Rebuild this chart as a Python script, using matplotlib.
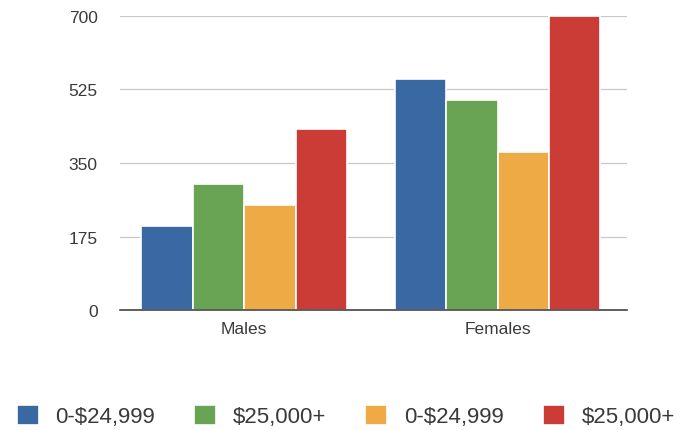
import numpy as np
import matplotlib.pyplot as plt

plt.rcParams['font.family'] = ['Liberation Sans', 'DejaVu Sans']

# Respondents by gender and income bracket
groups = ["Males", "Females"]
series_labels = ["0-$24,999", "$25,000+", "0-$24,999", "$25,000+"]
males = [200, 300, 250, 430]
females = [550, 500, 375, 700]
colors = ["#3a68a3", "#69a455", "#eeab45", "#cb3c36"]

values = np.array([males, females]).T
x = np.arange(len(groups))
width = 0.203
offsets = (np.arange(4) - 1.5) * width

fig = plt.figure(figsize=(6.82, 4.31), dpi=100)
ax = fig.add_axes([0.176, 0.278, 0.743, 0.683])

for i in range(len(series_labels)):
    ax.bar(x + offsets[i], values[i], width, color=colors[i],
           edgecolor="white", linewidth=1.2, label=series_labels[i], zorder=3)

ax.set_xlim(-0.49, 1.51)
ax.set_ylim(0, 700)
ax.set_yticks([0, 175, 350, 525, 700])
ax.set_xticks(x)
ax.set_xticklabels(groups)
ax.tick_params(axis="y", length=0, pad=16, labelsize=12.5, labelcolor="#3a3a3a")
ax.tick_params(axis="x", length=0, pad=8, labelsize=12.5, labelcolor="#3a3a3a")

ax.grid(axis="y", color="#c8c8c8", linewidth=0.9, zorder=0)
for side in ["top", "right", "left"]:
    ax.spines[side].set_visible(False)
ax.spines["bottom"].set_color("#444444")
ax.spines["bottom"].set_linewidth(1.2)
ax.spines["bottom"].set_zorder(4)

fig.legend(loc="center", bbox_to_anchor=(0.507, 0.032), ncol=4, frameon=False,
           fontsize=16, handlelength=1.0, handleheight=1.0, handletextpad=0.75,
           columnspacing=1.75, labelcolor="#3a3a3a", borderpad=0, borderaxespad=0)

fig.savefig("out.png", dpi=100)
